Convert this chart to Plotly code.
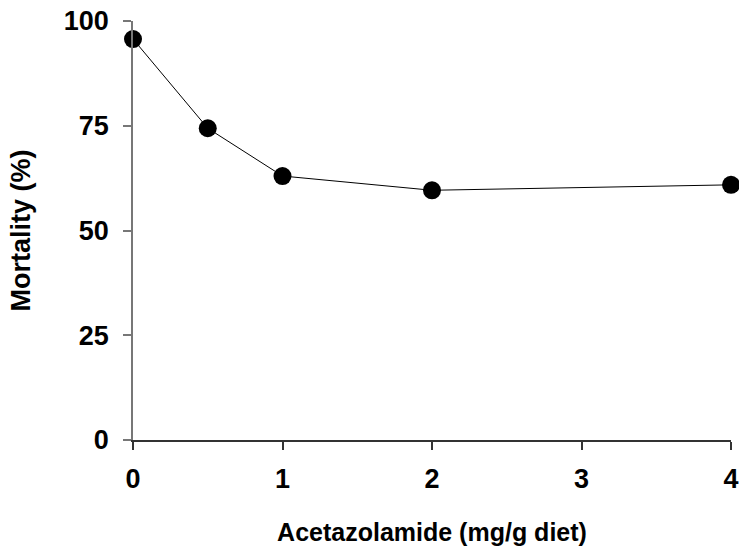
import plotly.graph_objects as go

dose = [0, 0.5, 1, 2, 4]
mortality = [95.7, 74.4, 63.0, 59.6, 60.9]
x_ticks = [0, 1, 2, 3, 4]
y_ticks = [0, 25, 50, 75, 100]

font_family = "Liberation Sans, Arial, sans-serif"

fig = go.Figure()
fig.add_trace(go.Scatter(
    x=dose, y=mortality, mode="lines+markers",
    line=dict(color="#000000", width=1),
    marker=dict(color="#000000", size=18),
    cliponaxis=False, showlegend=False,
))

fig.update_layout(
    width=739, height=549,
    margin=dict(l=133, r=8, t=21, b=109),
    paper_bgcolor="white", plot_bgcolor="white",
    font=dict(family=font_family, color="black"),
)
fig.update_xaxes(
    range=[0, 4], tickvals=x_ticks, ticktext=[str(v) for v in x_ticks],
    automargin=False, ticklabeloverflow="allow",
    showgrid=False, zeroline=False,
    showline=True, linecolor="#333333", linewidth=1.5,
    ticks="outside", ticklen=8, tickcolor="#333333", tickwidth=1.5,
    tickfont=dict(size=27, weight="bold", family=font_family),
    ticklabelstandoff=6,
    title=dict(text="Acetazolamide (mg/g diet)", standoff=30,
               font=dict(size=25, weight="bold", family=font_family)),
)
fig.update_yaxes(
    range=[0, 100], tickvals=y_ticks, ticktext=[str(v) for v in y_ticks],
    automargin=False, ticklabeloverflow="allow",
    showgrid=False, zeroline=False,
    showline=True, linecolor="#777777", linewidth=1.5,
    ticks="outside", ticklen=8, tickcolor="#777777", tickwidth=1.5,
    tickfont=dict(size=27, weight="bold", family=font_family),
    ticklabelstandoff=9,
    title=dict(text="Mortality (%)", standoff=25,
               font=dict(size=27, weight="bold", family=font_family)),
)

fig.write_html(
    "out.html",
    config={"displayModeBar": False},
    post_script="document.body.style.margin='0';document.body.style.overflow='hidden';",
)
